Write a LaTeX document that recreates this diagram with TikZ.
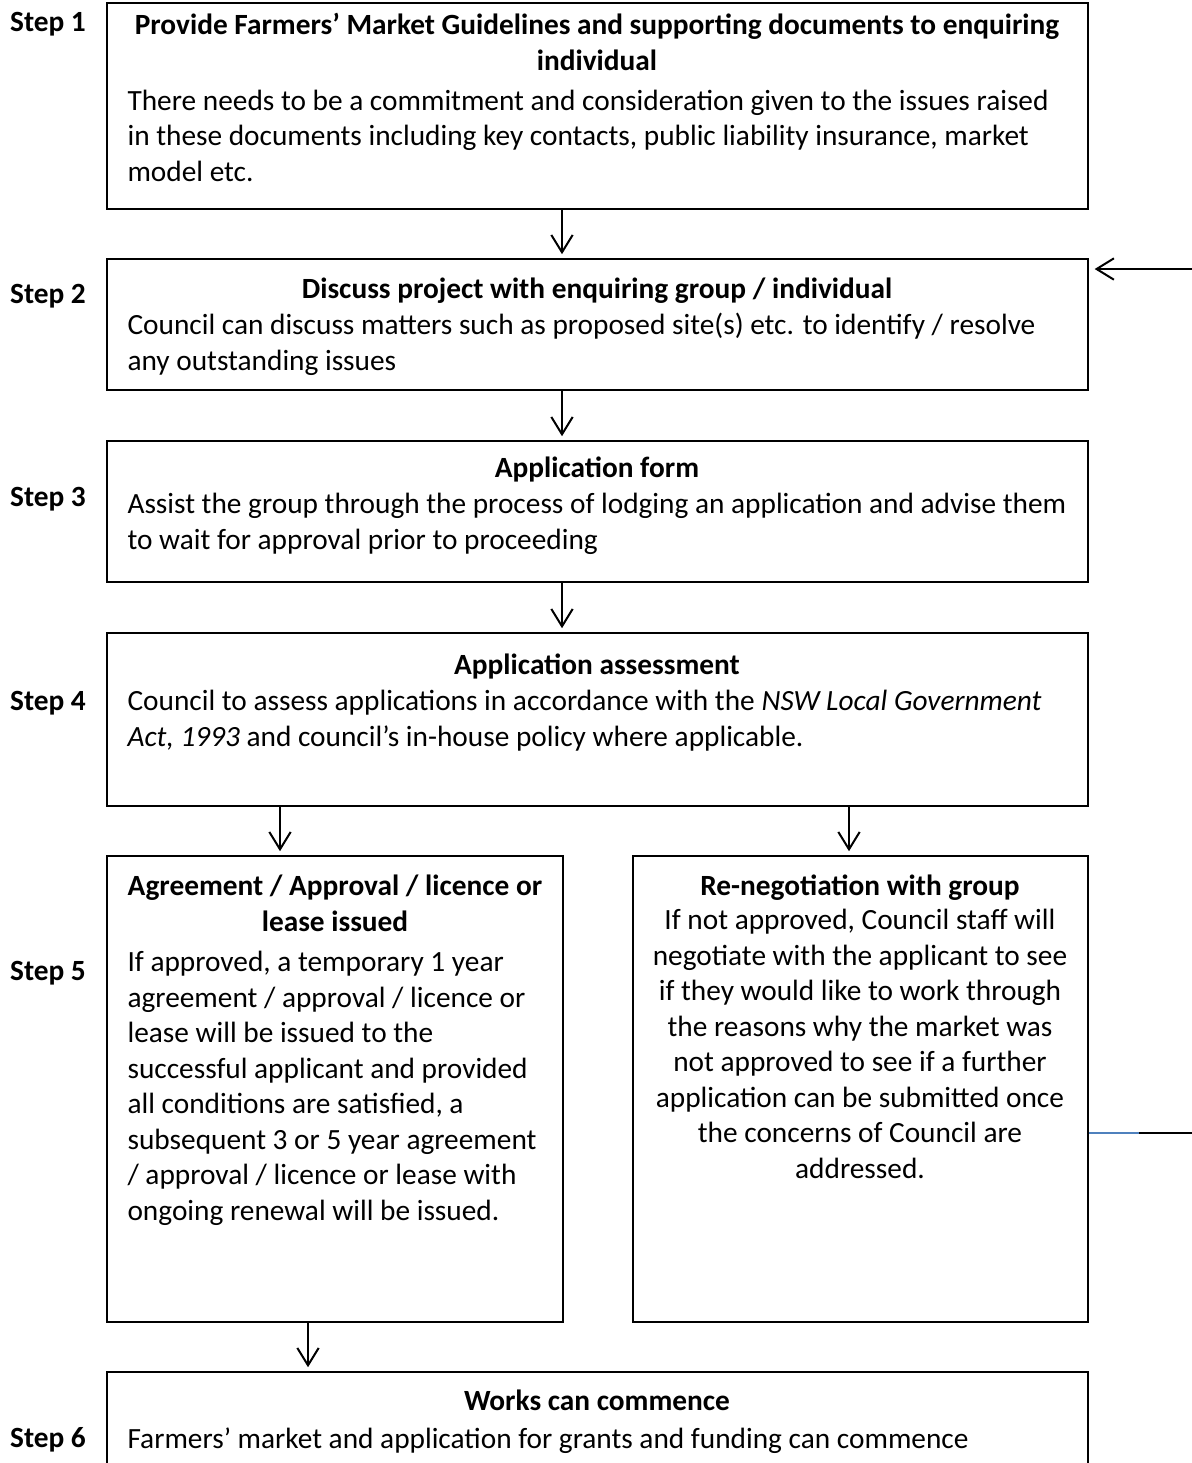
\documentclass[tikz,border=0pt]{standalone}
\usepackage{fontspec}
\setmainfont{Carlito}
\usetikzlibrary{arrows.meta,fit,positioning}
\definecolor{wordblue}{RGB}{79,129,189}

\begin{document}
\begin{tikzpicture}[x=0.375pt, y=-0.375pt,
  every node/.style={inner sep=0pt, font=\fontsize{11}{13.3}\selectfont},
  stepbox/.style={draw, line width=0.6pt},
  steplbl/.style={font=\fontsize{11}{13.3}\selectfont\bfseries, anchor=base},
  headtxt/.style={font=\fontsize{11}{13.3}\selectfont\bfseries, align=center, anchor=base},
  bodytxt/.style={align=left, anchor=base west},
  cbodytxt/.style={align=center, anchor=base},
  arr/.style={-{Straight Barb[length=6.5pt,width=8pt]}, line width=0.75pt, shorten >=1.5pt}]

\clip (0,0) rectangle (1192,1463);

\node[stepbox, fit={(107,3) (1088,209)}] (box1) {};
\node[stepbox, fit={(107,259) (1088,390)}] (box2) {};
\node[stepbox, fit={(107,441) (1088,582)}] (box3) {};
\node[stepbox, fit={(107,633) (1088,806)}] (box4) {};
\node[stepbox, fit={(107,856) (563,1322)}] (box5a) {};
\node[stepbox, fit={(633,856) (1088,1322)}] (box5b) {};
\node[stepbox, fit={(107,1372) (1088,1500)}] (box6) {};

\node[steplbl] (s1) at (48,31) {Step 1};
\node[steplbl] (s2) at (48,303) {Step 2};
\node[steplbl] (s3) at (48,506) {Step 3};
\node[steplbl] (s4) at (48,710) {Step 4};
\node[steplbl] (s5) at (48,980) {Step 5};
\node[steplbl] (s6) at (48,1447) {Step 6};

% multi-line nodes sit on the baseline of their last line
\node[headtxt] (h1) at (597,70) {Provide Farmers’ Market Guidelines and supporting documents to enquiring\\individual};
\node[bodytxt] (t1) at (127,181) {There needs to be a commitment and consideration given to the issues raised\\in these documents including key contacts, public liability insurance, market\\model etc.};

\node[headtxt] (h2) at (597,298) {Discuss project with enquiring group / individual};
\node[bodytxt] (t2) at (127,370) {Council can discuss matters such as proposed site(s) etc. to identify / resolve\\any outstanding issues};

\node[headtxt] (h3) at (597,477) {Application form};
\node[bodytxt] (t3) at (127,549) {Assist the group through the process of lodging an application and advise them\\to wait for approval prior to proceeding};

\node[headtxt] (h4) at (597,674) {Application assessment};
\node[bodytxt] (t4) at (127,746) {Council to assess applications in accordance with the \textit{NSW Local Government}\\\textit{Act, 1993} and council’s in-house policy where applicable.};

\node[headtxt] (h5a) at (335,931) {Agreement / Approval / licence or\\lease issued};
\node[bodytxt] (t5a) at (127,1220) {If approved, a temporary 1 year\\agreement / approval / licence or\\lease will be issued to the\\successful applicant and provided\\all conditions are satisfied, a\\subsequent 3 or 5 year agreement\\/ approval / licence or lease with\\ongoing renewal will be issued.};

\node[headtxt] (h5b) at (860,895) {Re-negotiation with group};
\node[cbodytxt] (t5b) at (860,1178) {If not approved, Council staff will\\negotiate with the applicant to see\\if they would like to work through\\the reasons why the market was\\not approved to see if a further\\application can be submitted once\\the concerns of Council are\\addressed.};

\node[headtxt] (h6) at (597,1410) {Works can commence};
\node[bodytxt] (t6) at (127,1448) {Farmers’ market and application for grants and funding can commence};

\coordinate (ax) at (562,0);
\coordinate (lx) at (280,0);
\coordinate (rx) at (849,0);
\coordinate (bx) at (308,0);
\coordinate (inR) at (1192,269);
\coordinate (outB) at (1139,1133);
\coordinate (outR) at (1192,1133);

\draw[arr] (box1.south -| ax) -- (box2.north -| ax);
\draw[arr] (box2.south -| ax) -- (box3.north -| ax);
\draw[arr] (box3.south -| ax) -- (box4.north -| ax);
\draw[arr] (box4.south -| lx) -- (box5a.north -| lx);
\draw[arr] (box4.south -| rx) -- (box5b.north -| rx);
\draw[arr] (box5a.south -| bx) -- (box6.north -| bx);

\draw[arr, shorten >=2.2pt] (inR) -- (box2.east |- inR);
\draw[wordblue, line width=0.55pt] (box5b.east |- outB) -- (outB);
\draw[line width=0.9pt] (outB) -- (outR);
\end{tikzpicture}
\end{document}
